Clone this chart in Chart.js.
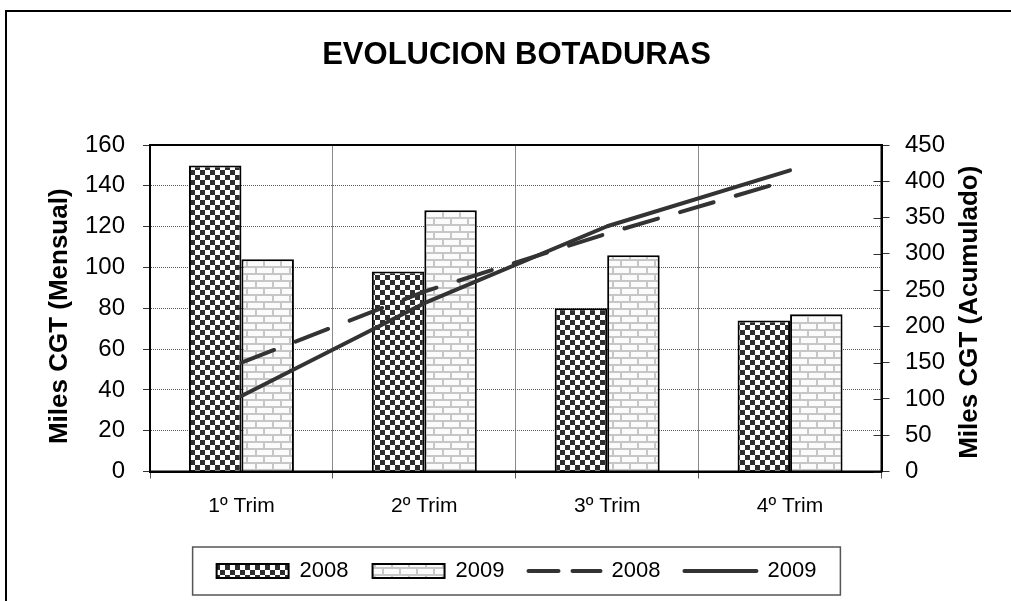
<!DOCTYPE html>
<html>
<head>
<meta charset="utf-8">
<script src="https://cdn.jsdelivr.net/npm/chart.js@4.4.1/dist/chart.umd.min.js"></script>
<style>
html,body{margin:0;padding:0;background:#fff;}
#wrap{width:1011px;height:601px;}
canvas{display:block;}
</style>
</head>
<body>
<div id="wrap"><canvas id="c" width="1011" height="601"></canvas></div>
<script>
// ---- data ----
const categories = ['1º Trim', '2º Trim', '3º Trim', '4º Trim'];
const monthly2008 = [150, 98, 80, 74];
const monthly2009 = [104, 128, 106, 77];
const cumulative2008 = [150, 248, 328, 402];
const cumulative2009 = [104, 232, 338, 415];
const seriesLabels = ['2008', '2009', '2008', '2009'];
const chartTitle = 'EVOLUCION BOTADURAS';
const leftAxisTitle = 'Miles CGT (Mensual)';
const rightAxisTitle = 'Miles CGT (Acumulado)';

const FONT = "'Liberation Sans', Arial, Helvetica, sans-serif";
Chart.defaults.font.family = FONT;
Chart.defaults.color = '#000';

const canvas = document.getElementById('c');
const mainCtx = canvas.getContext('2d');

function makeChecker() {
  const t = document.createElement('canvas');
  t.width = 10; t.height = 10;
  const g = t.getContext('2d');
  g.fillStyle = '#ffffff'; g.fillRect(0, 0, 10, 10);
  g.fillStyle = '#2e2e2e';
  g.fillRect(0, 0, 5, 5);
  g.fillRect(5, 5, 5, 5);
  return mainCtx.createPattern(t, 'repeat');
}
function makeBrick() {
  const t = document.createElement('canvas');
  t.width = 34; t.height = 14;
  const g = t.getContext('2d');
  g.fillStyle = '#fbfbfb'; g.fillRect(0, 0, 34, 14);
  g.fillStyle = '#c6c6c6';
  g.fillRect(0, 0, 34, 2);
  g.fillRect(0, 7, 34, 2);
  g.fillRect(0, 0, 2, 7);
  g.fillRect(17, 0, 2, 7);
  g.fillRect(8, 7, 2, 7);
  g.fillRect(25, 7, 2, 7);
  return mainCtx.createPattern(t, 'repeat');
}
const checker = makeChecker();
const brick = makeBrick();

const decor = {
  id: 'decor',
  beforeDraw(chart) {
    const ctx = chart.ctx;
    ctx.save();
    ctx.fillStyle = '#fff';
    ctx.fillRect(0, 0, chart.width, chart.height);
    ctx.strokeStyle = '#000';
    ctx.lineWidth = 2;
    ctx.strokeRect(6, 11, chart.width + 40, chart.height + 40);
    ctx.restore();
  },
  afterDraw(chart) {
    const ctx = chart.ctx;
    const a = chart.chartArea;
    ctx.save();
    // inner tick marks on right axis
    const y2 = chart.scales.y2;
    ctx.strokeStyle = '#333';
    ctx.lineWidth = 1;
    y2.ticks.forEach((t, i) => {
      const y = Math.round(y2.getPixelForTick(i)) + 0.5;
      ctx.beginPath();
      ctx.moveTo(a.right - 8, y);
      ctx.lineTo(a.right, y);
      ctx.stroke();
    });
    // plot frame
    ctx.strokeStyle = '#000';
    ctx.lineWidth = 2;
    ctx.strokeRect(a.left, a.top, a.right - a.left, a.bottom - a.top);
    // axis titles (both read bottom-to-top)
    ctx.fillStyle = '#000';
    ctx.font = "bold 26px " + FONT;
    ctx.textAlign = 'center';
    ctx.textBaseline = 'middle';
    const yl = chart.scales.y;
    ctx.save();
    ctx.translate(yl.left + 37.5, (a.top + a.bottom) / 2 + 8);
    ctx.rotate(-Math.PI / 2);
    ctx.fillText(leftAxisTitle, 0, 0);
    ctx.restore();
    ctx.save();
    ctx.translate(y2.right - 41, (a.top + a.bottom) / 2 + 4);
    ctx.rotate(-Math.PI / 2);
    ctx.fillText(rightAxisTitle, 0, 0);
    ctx.restore();
    // legend frame
    const hb = chart.legend.legendHitBoxes;
    if (hb && hb.length) {
      const first = hb[0], last = hb[hb.length - 1];
      const cy = first.top + first.height / 2;
      const x0 = first.left - 24, x1 = last.left + last.width + 24;
      ctx.strokeStyle = '#555';
      ctx.lineWidth = 1.5;
      ctx.strokeRect(x0, cy - 24, x1 - x0, 48);
    }
    ctx.restore();
  }
};

new Chart(canvas, {
  type: 'bar',
  data: {
    labels: categories,
    datasets: [
      { type: 'bar', label: seriesLabels[0], data: monthly2008, yAxisID: 'y', order: 1,
        backgroundColor: checker, borderColor: '#000', borderWidth: 2, borderSkipped: 'start' },
      { type: 'bar', label: seriesLabels[1], data: monthly2009, yAxisID: 'y', order: 1,
        backgroundColor: brick, borderColor: '#000', borderWidth: 2, borderSkipped: 'start' },
      { type: 'line', label: seriesLabels[2], data: cumulative2008, yAxisID: 'y2', order: 0,
        borderColor: '#333', backgroundColor: '#333', borderWidth: 4, borderDash: [35, 23],
        borderCapStyle: 'round', borderJoinStyle: 'round', pointRadius: 0, pointHoverRadius: 0,
        tension: 0, fill: false },
      { type: 'line', label: seriesLabels[3], data: cumulative2009, yAxisID: 'y2', order: 0,
        borderColor: '#333', backgroundColor: '#333', borderWidth: 4,
        borderCapStyle: 'round', borderJoinStyle: 'round', pointRadius: 0, pointHoverRadius: 0,
        tension: 0, fill: false }
    ]
  },
  options: {
    responsive: false,
    animation: false,
    devicePixelRatio: 1,
    events: [],
    layout: { padding: { left: 22, right: 0, top: 0, bottom: 9 } },
    datasets: { bar: { categoryPercentage: 0.574, barPercentage: 1 } },
    plugins: {
      tooltip: { enabled: false },
      title: {
        display: true, text: chartTitle, color: '#000',
        font: { size: 31, weight: 'bold', family: FONT },
        padding: { top: 37, bottom: 70.8 }
      },
      legend: {
        display: true, position: 'bottom',
        labels: {
          usePointStyle: true,
          pointStyleWidth: 72,
          boxHeight: 14,
          padding: 24,
          color: '#000',
          font: { size: 22, family: FONT },
          sort: (a, b) => a.datasetIndex - b.datasetIndex,
          generateLabels(chart) {
            return chart.data.datasets.map((ds, i) => {
              const isLine = ds.type === 'line';
              return {
                text: ds.label,
                datasetIndex: i,
                hidden: !chart.isDatasetVisible(i),
                fillStyle: isLine ? 'rgba(0,0,0,0)' : ds.backgroundColor,
                strokeStyle: isLine ? ds.borderColor : '#000',
                lineWidth: isLine ? 4 : 2,
                lineDash: isLine && ds.borderDash ? [30, 14] : [],
                lineDashOffset: 0,
                lineCap: isLine ? 'round' : 'butt',
                lineJoin: 'miter',
                pointStyle: isLine ? 'line' : 'rect',
                rotation: 0,
                fontColor: '#000'
              };
            });
          }
        }
      }
    },
    scales: {
      x: {
        offset: true,
        grid: { offset: true, color: '#8a8a8a', lineWidth: 1, tickLength: 7, tickColor: '#555' },
        border: { display: true, color: '#000', width: 2 },
        ticks: { color: '#000', font: { size: 21 }, padding: 15, maxRotation: 0, autoSkip: false },
        afterFit(s) { s.height = 64.5; }
      },
      y: {
        position: 'left', min: 0, max: 160,
        ticks: { stepSize: 20, color: '#000', font: { size: 24 }, padding: 18 },
        grid: { color: '#5a5a5a', lineWidth: 1, tickLength: 7, tickColor: '#333', tickBorderDash: [] },
        border: { display: true, color: '#000', width: 2, dash: [1, 1] },
        afterFit(s) { s.width = 128; }
      },
      y2: {
        position: 'right', min: 0, max: 450,
        ticks: { stepSize: 50, color: '#000', font: { size: 24 }, padding: 15.5 },
        grid: { drawOnChartArea: false, color: '#333', tickLength: 8 },
        border: { display: true, color: '#000', width: 2 },
        afterFit(s) { s.width = 129.5; }
      }
    }
  },
  plugins: [decor]
});
</script>
</body>
</html>
